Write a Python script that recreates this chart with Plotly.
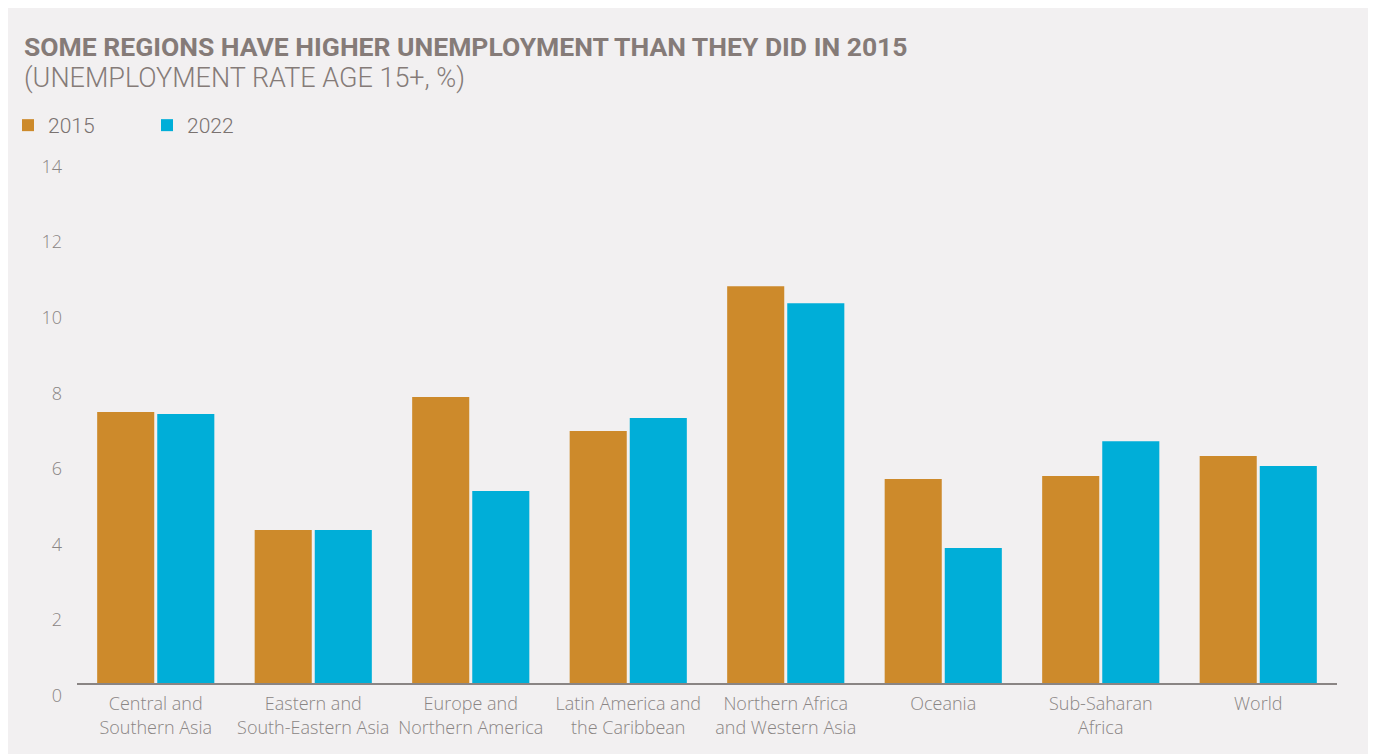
import plotly.graph_objects as go

categories = ["Central and<br>Southern Asia", "Eastern and<br>South-Eastern Asia", "Europe and<br>Northern America",
              "Latin America and<br>the Caribbean", "Northern Africa<br>and Western Asia", "Oceania",
              "Sub-Saharan<br>Africa", "World"]
values_2015 = [7.17, 4.05, 7.57, 6.67, 10.5, 5.4, 5.48, 6.01]
values_2022 = [7.12, 4.05, 5.08, 7.01, 10.05, 3.57, 6.4, 5.74]
series_names = ["2015", "2022"]
colors = ["#CD8A2B", "#00AED8"]
y_ticks = [0, 2, 4, 6, 8, 10, 12, 14]

W, H = 1376, 754
L, R, T, B = 69, 47, 146, 79
pw, ph = W - L - R, H - T - B

fig = go.Figure()
for name, vals, c in zip(series_names, [values_2015, values_2022], colors):
    fig.add_trace(go.Bar(x=categories, y=vals, name=name, marker=dict(color=c, line=dict(width=0))))

bg = "#F2F0F1"
fig.update_layout(
    width=W, height=H,
    margin=dict(l=L, r=R, t=T, b=B, autoexpand=False),
    paper_bgcolor=bg, plot_bgcolor=bg,
    barmode="group", bargap=0.237, bargroupgap=0.05,
    font=dict(family="Open Sans", color="#8a8584"),
    showlegend=True,
    legend=dict(orientation="h", x=(0 - L) / pw, y=1 + (T - 97) / ph, xanchor="left", yanchor="top",
                font=dict(family="Roboto", size=21, color="#7a7270", weight=300),
                bgcolor="rgba(0,0,0,0)", itemwidth=30, traceorder="normal", entrywidth=94),
    annotations=[
        dict(text="<b>SOME REGIONS HAVE HIGHER UNEMPLOYMENT THAN THEY DID IN 2015</b>", xref="paper", yref="paper",
             x=(14 - L) / pw, y=1 + (T - 38) / ph, xanchor="left", yanchor="middle", showarrow=False,
             font=dict(family="Roboto", size=26.5, color="#857b78")),
        dict(text="(UNEMPLOYMENT RATE AGE 15+, %)", xref="paper", yref="paper",
             x=(14 - L) / pw, y=1 + (T - 70) / ph, xanchor="left", yanchor="middle", showarrow=False,
             font=dict(family="Roboto", size=27, color="#857b78", weight=300)),
    ],
)
fig.update_xaxes(showgrid=False, showline=True, linecolor="#8a8584", linewidth=1.5, ticks="",
                 ticklabelstandoff=4, automargin=False,
                 tickfont=dict(family="Open Sans", size=18, color="#8a8584", weight=300))
fig.update_yaxes(range=[0, 14], tickvals=y_ticks, showgrid=False, zeroline=False, showline=False,
                 ticks="", ticklabelposition="outside bottom", ticklabelstandoff=14, automargin=False,
                 tickfont=dict(family="Open Sans", size=18, color="#8a8584", weight=300))

fig.write_html("out.html")
